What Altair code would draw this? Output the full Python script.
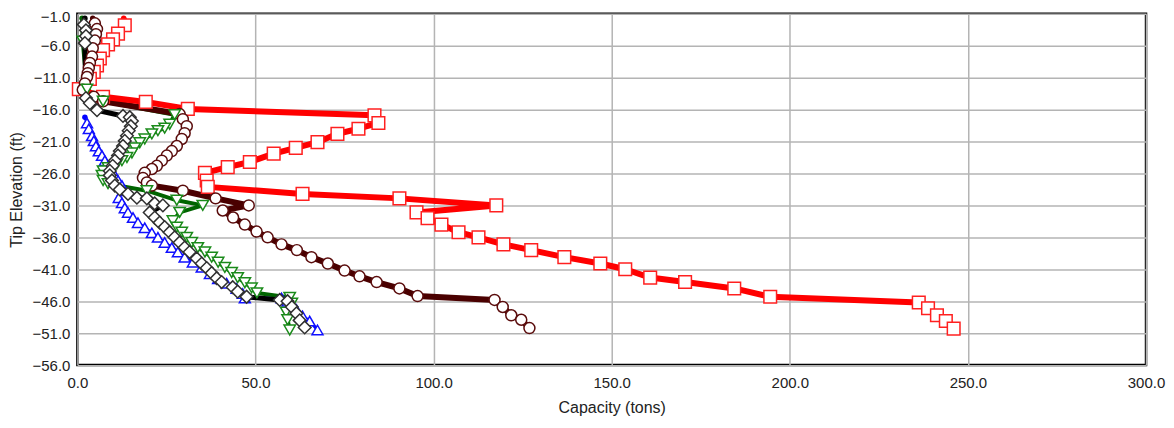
import altair as alt
import pandas as pd

X_TICKS = [0, 50, 100, 150, 200, 250, 300]
Y_TICKS = [-1, -6, -11, -16, -21, -26, -31, -36, -41, -46, -51, -56]

red_x = [13.0, 13.3, 11.4, 10.0, 8.6, 7.2, 6.3, 5.5, 4.6, 3.5, 0.4, 7.2, 19.2, 31.0, 83.4, 84.5, 78.9, 73.0, 67.4, 61.3,
         55.1, 48.4, 42.2, 35.8, 36.3, 36.6, 63.2, 90.4, 117.6, 95.2, 98.3, 102.2, 107.0, 112.6, 119.6, 127.4, 136.7,
         146.8, 153.8, 160.8, 170.6, 184.4, 194.5, 236.2, 238.8, 241.3, 243.8, 246.0]
red_y = [-1.7, -2.8, -4.1, -5.0, -5.8, -6.7, -8.0, -9.1, -10.1, -11.2, -12.8, -14.0, -14.8, -15.9, -16.9, -18.1, -19.0,
         -19.8, -21.1, -22.0, -22.9, -24.2, -25.0, -25.9, -27.1, -28.1, -29.2, -29.9, -31.0, -32.1, -33.0, -34.0, -35.2,
         -36.0, -37.1, -38.0, -39.1, -40.1, -41.0, -42.3, -43.0, -44.0, -45.3, -46.2, -47.1, -48.2, -49.1, -50.3]

brown_x = [4.3, 4.9, 5.5, 5.2, 4.9, 4.3, 4.1, 3.5, 3.2, 2.9, 2.7, 2.1, 1.5, 4.6, 7.2, 28.7, 29.6, 30.7, 30.1, 29.3,
           27.9, 26.5, 25.1, 23.7, 22.3, 20.9, 18.9, 18.4, 19.5, 20.9, 29.6, 38.8, 48.1, 40.8, 43.7, 47.0, 50.3, 53.4,
           57.3, 61.6, 65.7, 70.3, 75.0, 79.2, 84.0, 90.4, 95.5, 117.1, 119.4, 121.8, 124.6, 126.9]
brown_y = [-1.7, -2.5, -3.4, -4.2, -5.2, -6.4, -7.7, -8.7, -9.5, -10.3, -10.9, -11.9, -12.9, -14.0, -14.7, -16.7,
           -17.5, -18.6, -19.7, -20.6, -21.7, -22.5, -23.2, -24.0, -24.8, -25.3, -25.9, -26.7, -27.4, -27.9, -28.7,
           -29.9, -31.0, -31.8, -32.9, -34.0, -35.1, -36.0, -37.1, -38.0, -39.1, -40.1, -41.2, -42.1, -43.0, -44.0,
           -45.2, -45.8, -46.9, -48.2, -48.9, -50.2]

black_x = [2.1, 1.8, 2.4, 2.4, 2.1, 2.4, 3.5, 5.5, 12.8, 14.7, 15.3, 15.0, 14.4, 13.9, 13.3, 12.8, 11.9, 11.4,
           10.5, 9.9, 9.1, 9.1, 9.7, 10.5, 11.9, 14.2, 16.7, 19.5, 21.7, 24.0, 20.3, 21.7, 23.1, 24.5, 25.9, 27.3,
           28.7, 30.1, 31.5, 33.5, 34.9, 36.3, 37.7, 39.1, 40.5, 43.6, 45.0, 47.5, 56.8, 59.0, 60.2, 61.5, 62.4, 63.8]
black_y = [-1.7, -2.7, -3.6, -4.5, -5.6, -14.2, -15.0, -16.1, -17.0, -17.2, -17.8, -18.6, -19.3, -20.1, -20.9,
           -21.7, -22.5, -23.2, -24.0, -24.8, -25.6, -26.3, -27.1, -27.9, -28.5, -29.2, -29.8, -29.9, -30.7, -31.0,
           -32.1, -32.9, -33.7, -34.4, -35.2, -36.0, -36.8, -37.6, -38.3, -39.3, -40.1, -40.8, -41.6, -42.4, -43.0,
           -43.8, -44.5, -45.3, -45.8, -46.0, -46.9, -47.9, -49.0, -50.1]

blue_x = [2.1, 2.7, 3.2, 4.1, 4.6, 5.2, 6.0, 6.9, 7.7, 8.6, 9.7, 10.5, 11.4, 12.5, 12.8, 11.6, 12.5, 13.3, 14.2, 15.6,
          17.0, 18.9, 20.9, 22.6, 24.5, 26.5, 28.2, 30.1, 32.4, 34.9, 37.2, 39.5, 41.9, 44.7, 46.4, 47.0, 57.3, 59.0,
          61.5, 63.2, 65.2, 67.4]
blue_y = [-17.2, -18.1, -19.0, -20.1, -20.9, -21.7, -22.5, -23.2, -24.0, -24.8, -25.6, -26.3, -27.1, -27.9, -28.7,
          -29.8, -30.6, -31.4, -32.1, -32.9, -33.7, -34.5, -35.3, -36.0, -36.8, -37.6, -38.3, -39.1, -39.9, -40.7,
          -41.7, -42.5, -43.2, -44.0, -44.8, -45.5, -45.5, -46.0, -47.3, -48.3, -49.1, -50.5]

green_x = [1.3, 1.5, 2.7, 7.2, 27.3, 25.9, 24.5, 22.6, 20.9, 18.9, 17.5, 16.1, 15.3, 13.9, 12.5, 11.1, 8.6, 7.2, 6.9,
           7.2, 8.6, 19.5, 27.9, 35.2, 28.7, 26.8, 27.9, 29.3, 30.7, 32.1, 33.8, 35.8, 37.7, 39.5, 41.4, 43.3, 45.0,
           47.0, 48.9, 50.4, 59.6, 60.2, 58.6, 59.0, 59.6]
green_y = [-1.7, -5.3, -12.8, -14.7, -16.8, -18.3, -18.9, -19.3, -19.8, -20.6, -21.2, -22.0, -22.8, -23.5, -24.0,
           -24.5, -25.1, -25.6, -26.3, -27.1, -27.6, -28.7, -30.2, -31.0, -32.1, -33.4, -34.4, -35.2, -36.0, -36.8,
           -37.6, -38.3, -39.1, -39.9, -40.7, -41.5, -42.3, -43.1, -43.9, -44.7, -45.4, -46.3, -47.7, -48.9, -50.5]

# xs, ys, line colour, marker stroke, shape, size, line width
series = {
    "red": (red_x, red_y, "#ff0000", "#ff2020", "square", 160, 6),
    "brown": (brown_x, brown_y, "#4a0000", "#5a0c0c", "circle", 121, 6),
    "blue": (blue_x, blue_y, "#0000ff", "#1010ff", "triangle-up", 120, 3),
    "green": (green_x, green_y, "#006400", "#1a8a1a", "triangle-down", 130, 4),
    "black": (black_x, black_y, "#000000", "#303030", "diamond", 160, 5),
}
line_order = ["blue", "green", "black", "brown", "red"]
marker_order = ["red", "brown", "blue", "green", "black"]

xscale = alt.Scale(domain=[0, 300], nice=False, zero=False)
yscale = alt.Scale(domain=[-56, -1], nice=False, zero=False)
xaxis = alt.Axis(values=X_TICKS, format=".1f", title="Capacity (tons)", labelPadding=10, titlePadding=9,
                 labelFlush=False)
yaxis = alt.Axis(values=Y_TICKS, format=".1f", title="Tip Elevation (ft)", labelPadding=7.5, titlePadding=8,
                 labelFlush=False, labelOffset=alt.ExprRef(expr="datum.value == -1 ? 2.5 : 0"))


def base_for(name):
    xs, ys = series[name][0], series[name][1]
    df = pd.DataFrame({"i": list(range(len(xs))), "x": xs, "y": ys})
    return alt.Chart(df).encode(
        x=alt.X("x:Q", scale=xscale, axis=xaxis),
        y=alt.Y("y:Q", scale=yscale, axis=yaxis),
    )


layers = []
for name in line_order:
    _, _, lc, mc, shape, size, lw = series[name]
    layers.append(base_for(name).mark_line(color=lc, strokeWidth=lw, strokeJoin="round").encode(order="i:Q"))
for name in marker_order:
    _, _, lc, mc, shape, size, lw = series[name]
    b = base_for(name)
    layers.append(b.transform_filter("datum.i == 0").mark_point(
        shape="circle", filled=True, color=lc, size=30, opacity=1))
    layers.append(b.transform_filter("datum.i > 0").mark_point(
        shape=shape, filled=True, fill="white", stroke=mc, strokeWidth=1.5, size=size, opacity=1, fillOpacity=1))

chart = alt.layer(*layers).properties(
    width=1070, height=351.8,
    autosize=alt.AutoSizeParams(type="none"),
    padding={"left": 69.5, "top": 5.5, "right": 20, "bottom": 55},
    background="white",
).configure_view(
    stroke="black", strokeWidth=2.5
).configure_axis(
    grid=True, gridColor="#b4b4b4", gridWidth=1.5, ticks=False, domain=False,
    labelFont="Liberation Sans", labelFontSize=15, labelColor="#222222",
    titleFont="Liberation Sans", titleFontSize=16, titleFontWeight="normal", titleColor="#222222",
)

chart.save("out.html", embed_options={"renderer": "svg", "actions": False})
